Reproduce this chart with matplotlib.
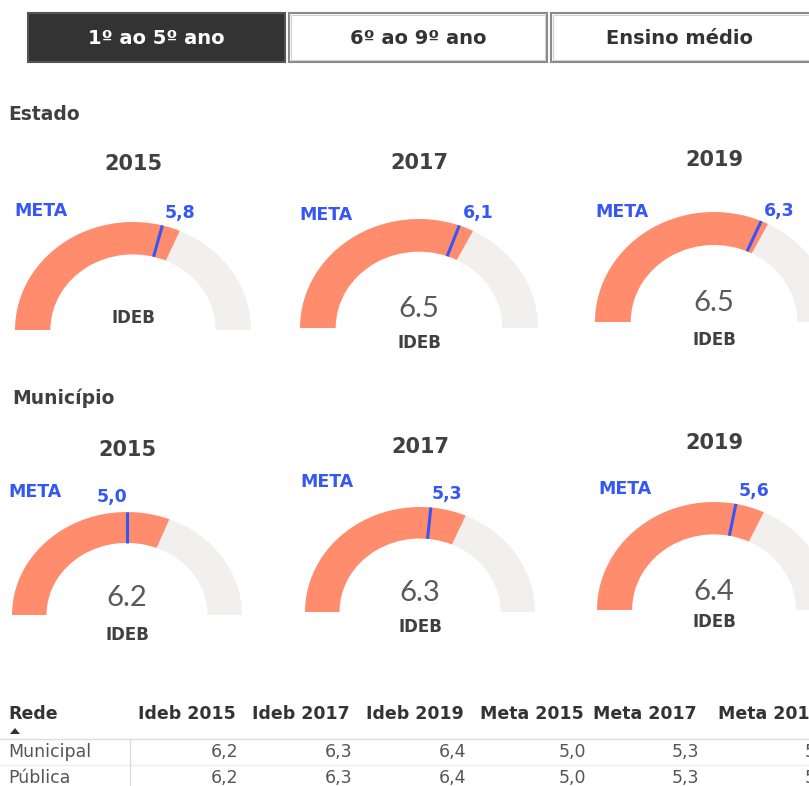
import numpy as np
import matplotlib
matplotlib.use("Agg")
import matplotlib.pyplot as plt
from matplotlib.patches import Wedge, Rectangle, Polygon

# ---------------- data ----------------
years = ["2015", "2017", "2019"]
estado_ideb = [6.3, 6.5, 6.5]
estado_ideb_shown = [False, True, True]
estado_meta = [5.8, 6.1, 6.3]
municipio_ideb = [6.2, 6.3, 6.4]
municipio_meta = [5.0, 5.3, 5.6]
gauge_max = 10.0

tabs = ["1º ao 5º ano", "6º ao 9º ano", "Ensino médio"]
table_header = ["Rede", "Ideb 2015", "Ideb 2017", "Ideb 2019", "Meta 2015", "Meta 2017", "Meta 2019"]
table_rows = ["Municipal", "Pública"]
table_municipal = [6.2, 6.3, 6.4, 5.0, 5.3, 5.6]
table_publica = [6.2, 6.3, 6.4, 5.0, 5.3, 5.6]

# ---------------- style ----------------
W, H = 809, 786
SALMON = "#FE8C6D"
TRACK = "#F1F0EF"
BLUE = "#3457F6"
DARK = "#404040"
FONT = ["DejaVu Sans"]
LIGHT = ["Lato", "DejaVu Sans"]

fig = plt.figure(figsize=(W / 100, H / 100), dpi=100)
fig.patch.set_facecolor("white")

bg = fig.add_axes([0, 0, 1, 1], zorder=10)
bg.set_xlim(0, W)
bg.set_ylim(H, 0)
bg.axis("off")
bg.patch.set_alpha(0)

# ---------------- tabs ----------------
tab_x = [(28, 285), (289, 547), (551, 812)]
tab_tx = [156, 418, 680]
for i, (lbl, (x0, x1)) in enumerate(zip(tabs, tab_x)):
    active = i == 0
    bg.add_patch(Rectangle((x0, 13), x1 - x0, 49,
                           facecolor="#333333" if active else "white",
                           edgecolor="#555555" if active else "#8a8a8a",
                           lw=1.5, clip_on=False))
    if not active:
        bg.add_patch(Rectangle((x0 + 2, 15), x1 - x0 - 4, 45, facecolor="none",
                               edgecolor="#d0d0d0", lw=0.8, clip_on=False))
    bg.text(tab_tx[i], 39, lbl,
            color="white" if active else "#333333", fontsize=14,
            fontweight="bold", family=FONT, ha="center", va="center")

# ---------------- section labels ----------------
bg.text(8, 114, "Estado", fontsize=13.5, fontweight="bold", color=DARK,
        family=FONT, ha="left", va="center")
bg.text(12, 398, "Município", fontsize=13.5, fontweight="bold", color=DARK,
        family=FONT, ha="left", va="center")

# ---------------- gauges ----------------
layout_estado = [
    dict(cx=133, base=330, rx=118, ry=108, ty=164, meta=(41, 211), mv=(180, 213), vy=309, iy=318),
    dict(cx=419, base=328, rx=119, ry=109, ty=163, meta=(326, 215), mv=(478, 213), vy=309, iy=343),
    dict(cx=714, base=322, rx=119, ry=110, ty=160, meta=(622, 212), mv=(779, 211), vy=303, iy=340),
]
layout_mun = [
    dict(cx=127, base=615, rx=115, ry=103, ty=450, meta=(35, 492), mv=(112, 497), vy=598, iy=635),
    dict(cx=420, base=612, rx=115, ry=105, ty=447, meta=(327, 482), mv=(447, 494), vy=593, iy=627),
    dict(cx=714, base=610, rx=117, ry=108, ty=443, meta=(625, 489), mv=(754, 491), vy=592, iy=622),
]


def draw_gauge(lay, year, value, meta, show_value):
    ax = fig.add_axes([(lay["cx"] - lay["rx"]) / W, 1 - lay["base"] / H,
                       2 * lay["rx"] / W, lay["ry"] / H])
    ax.set_xlim(-1, 1)
    ax.set_ylim(0, 1)
    ax.axis("off")
    ang_v = 180 * (1 - value / gauge_max)
    ang_m = np.radians(180 * (1 - meta / gauge_max))
    ax.add_patch(Wedge((0, 0), 1, 0, ang_v, width=0.3, facecolor=TRACK, edgecolor="none"))
    ax.add_patch(Wedge((0, 0), 1, ang_v, 180, width=0.3, facecolor=SALMON, edgecolor="none"))
    ax.plot([0.7 * np.cos(ang_m), 1.0 * np.cos(ang_m)],
            [0.7 * np.sin(ang_m), 1.0 * np.sin(ang_m)],
            color=BLUE, lw=2.2, solid_capstyle="butt")
    bg.text(lay["cx"], lay["ty"], year, fontsize=15, fontweight="bold", color=DARK,
            family=FONT, ha="center", va="center")
    bg.text(lay["meta"][0], lay["meta"][1], "META", fontsize=12.5, fontweight="bold",
            color=BLUE, family=FONT, ha="center", va="center")
    bg.text(lay["mv"][0], lay["mv"][1], f"{meta:.1f}".replace(".", ","), fontsize=12.5,
            fontweight="bold", color=BLUE, family=FONT, ha="center", va="center")
    if show_value:
        bg.text(lay["cx"], lay["vy"], f"{value:.1f}", fontsize=21, fontweight="normal",
                color="#5a5a5a", family=LIGHT, ha="center", va="center")
    bg.text(lay["cx"], lay["iy"], "IDEB", fontsize=12, fontweight="bold", color=DARK,
            family=FONT, ha="center", va="center")


for i in range(3):
    draw_gauge(layout_estado[i], years[i], estado_ideb[i], estado_meta[i], estado_ideb_shown[i])
    draw_gauge(layout_mun[i], years[i], municipio_ideb[i], municipio_meta[i], True)

# ---------------- table ----------------
col_right = [None, 236, 350, 464, 584, 697, 822]
val_right = [238, 352, 466, 586, 699, 832]
hy = 714
bg.text(8, hy, table_header[0], fontsize=12.5, fontweight="bold", color="#333333",
        family=FONT, ha="left", va="center")
for j in range(1, len(table_header)):
    bg.text(col_right[j], hy, table_header[j], fontsize=12.5, fontweight="bold",
            color="#333333", family=FONT, ha="right", va="center")
bg.add_patch(Polygon([(10, 734), (20, 734), (15, 728)], closed=True,
                     facecolor="#333333", edgecolor="none"))
bg.plot([0, W], [739, 739], color="#dddddd", lw=1)
bg.plot([0, W], [765, 765], color="#eeeeee", lw=1)
bg.plot([130, 130], [739, H], color="#dddddd", lw=1)

for r, (rname, vals) in enumerate(zip(table_rows, [table_municipal, table_publica])):
    y = 752 + r * 26
    bg.text(8, y, rname, fontsize=12.5, color="#555555", family=FONT, ha="left", va="center")
    for j, v in enumerate(vals):
        bg.text(val_right[j], y, f"{v:.1f}".replace(".", ","), fontsize=12.5,
                color="#555555", family=FONT, ha="right", va="center")

fig.savefig("out.png", dpi=100, facecolor="white")
